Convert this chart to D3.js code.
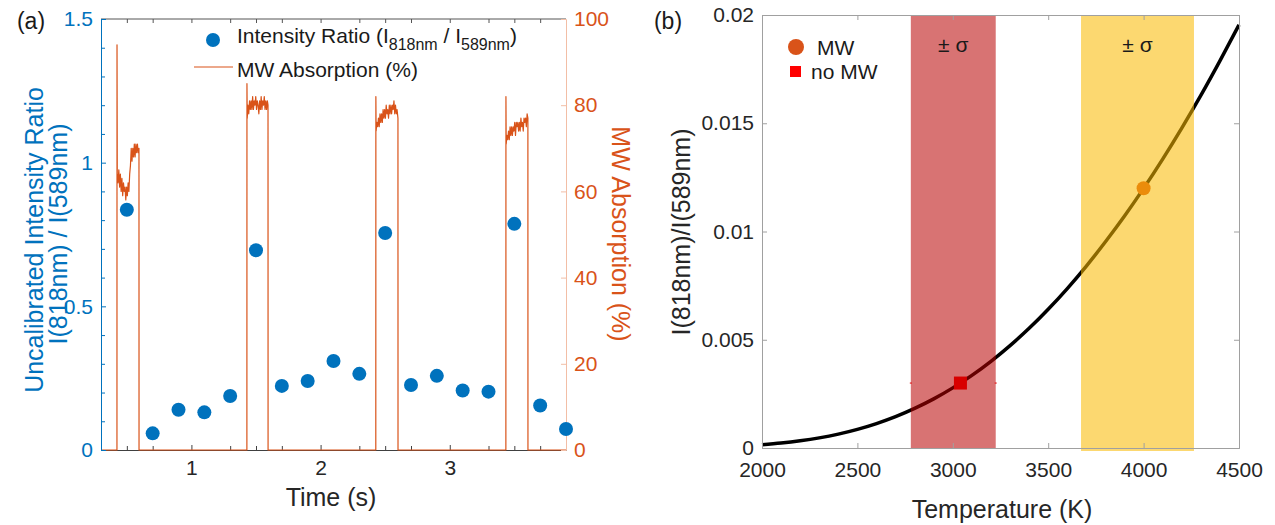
<!DOCTYPE html>
<html>
<head>
<meta charset="utf-8">
<script src="https://cdn.jsdelivr.net/npm/d3@7"></script>
<style>
  body { margin: 0; background: #fff; }
  text { font-family: "Liberation Sans", Arial, sans-serif; }
</style>
</head>
<body>
<div id="chart"></div>
<script>
// ---- panel (a) data ----
var ratioTime = [0.5, 0.7, 0.9, 1.1, 1.3, 1.5, 1.7, 1.9, 2.1, 2.3, 2.5, 2.7, 2.9, 3.1, 3.3, 3.5, 3.7, 3.9];
var ratioValue = [0.836, 0.058, 0.140, 0.131, 0.188, 0.695, 0.223, 0.240, 0.310, 0.265, 0.755, 0.226, 0.258, 0.207, 0.203, 0.787, 0.155, 0.073];

// MW absorption trace (%)
var mwTime = [0.30, 0.4235,
  0.424, 0.426, 0.432, 0.438, 0.444, 0.450, 0.456, 0.462, 0.468, 0.474, 0.480, 0.486, 0.492, 0.498, 0.504,
  0.510, 0.516, 0.522, 0.528, 0.534, 0.540, 0.546, 0.552, 0.558, 0.564, 0.570, 0.576, 0.582, 0.588, 0.594, 0.5945,
  1.4295,
  1.430, 1.432, 1.438, 1.444, 1.450, 1.456, 1.462, 1.468, 1.474, 1.480, 1.486, 1.492, 1.498, 1.504, 1.510,
  1.516, 1.522, 1.528, 1.534, 1.540, 1.546, 1.552, 1.558, 1.564, 1.570, 1.576, 1.582, 1.588, 1.593, 1.5935,
  2.4275,
  2.428, 2.430, 2.436, 2.442, 2.448, 2.454, 2.460, 2.466, 2.472, 2.478, 2.484, 2.490, 2.496, 2.502, 2.508,
  2.514, 2.520, 2.526, 2.532, 2.538, 2.544, 2.550, 2.556, 2.562, 2.568, 2.574, 2.580, 2.586, 2.592, 2.599, 2.5995,
  3.4345,
  3.435, 3.437, 3.443, 3.449, 3.455, 3.461, 3.467, 3.473, 3.479, 3.485, 3.491, 3.497, 3.503, 3.509, 3.515,
  3.521, 3.527, 3.533, 3.539, 3.545, 3.551, 3.557, 3.563, 3.569, 3.575, 3.581, 3.587, 3.593, 3.599, 3.605, 3.6055,
  3.90];
var mwValue = [0, 0,
  94, 64, 62, 65, 61, 64, 60, 63, 59, 62, 60, 61, 58, 61, 59,
  62, 60, 64, 66, 70, 67, 70, 68, 71, 68, 71, 69, 71, 69, 70, 0,
  0,
  85, 77, 80, 78, 81, 79, 81, 79, 82, 79, 81, 80, 82, 79, 81,
  80, 78, 81, 79, 82, 79, 81, 80, 82, 79, 81, 79, 81, 80, 0,
  0,
  82, 74, 76, 75, 77, 75, 78, 76, 78, 76, 79, 77, 79, 77, 80,
  78, 79, 77, 80, 78, 80, 78, 80, 79, 81, 78, 80, 78, 79, 77, 0,
  0,
  82, 71, 73, 72, 74, 72, 75, 73, 75, 73, 75, 74, 76, 73, 76,
  75, 76, 74, 76, 74, 77, 75, 76, 74, 77, 76, 77, 75, 78, 77, 0,
  0];

var timeTicks = [1, 2, 3];
var timeMinorTicks = [0.5, 0.7, 1.3, 1.5, 1.7, 2.3, 2.5, 2.7, 3.3, 3.5, 3.7];
var ratioTicks = [0, 0.5, 1, 1.5];
var ratioMinorTicks = [0.1, 0.2, 0.3, 0.4, 0.6, 0.7, 0.8, 0.9, 1.1, 1.2, 1.3, 1.4];
var mwTicks = [0, 20, 40, 60, 80, 100];

// ---- panel (b) data ----
var tempK = [2000, 2100, 2200, 2300, 2400, 2500, 2600, 2700, 2800, 2900, 3000, 3100, 3200,
  3300, 3400, 3500, 3600, 3700, 3800, 3900, 4000, 4100, 4200, 4300, 4400, 4500];
var ratioCurve = [0.000149, 0.000226, 0.000331, 0.000467, 0.000642, 0.000861, 0.001128, 0.001448,
  0.001828, 0.002269, 0.002777, 0.003352, 0.004004, 0.004729, 0.005527, 0.006409, 0.007365,
  0.008404, 0.009525, 0.010715, 0.011991, 0.013345, 0.014776, 0.016284, 0.017880, 0.019543];
var noMwBand = [2780, 3225];
var mwBand = [3672, 4264];
var noMwPoint = [3040, 0.003];
var mwPoint = [4000, 0.012];
var tempTicks = [2000, 2500, 3000, 3500, 4000, 4500];
var curveTicks = [0, 0.005, 0.01, 0.015, 0.02];

var blue = "#0072BD";
var orange = "#D95319";
var fontFam = "Liberation Sans, Arial, sans-serif";
var tickFont = 21;
var labelFont = 25;

var svg = d3.select("#chart").append("svg")
  .attr("width", 1275)
  .attr("height", 525);

// ================= panel (a) =================
var xA = d3.scaleLinear().domain([0.3, 3.9]).range([101, 566]);
var yA = d3.scaleLinear().domain([0, 1.5]).range([450, 19]);
var yMW = d3.scaleLinear().domain([0, 100]).range([450, 19]);

var gA = svg.append("g");

// top box line
gA.append("line")
  .attr("x1", 101).attr("x2", 566).attr("y1", 19).attr("y2", 19)
  .attr("stroke", "#555").attr("stroke-width", 1);

// top mirrored ticks
gA.append("g").attr("transform", "translate(0,19)")
  .call(d3.axisTop(xA).tickValues(timeTicks.concat(timeMinorTicks)).tickSize(-4).tickFormat(""))
  .call(g => g.select(".domain").remove())
  .call(g => g.selectAll("line").attr("stroke", "#555"));

// bottom axis
gA.append("g").attr("transform", "translate(0,450)")
  .call(d3.axisBottom(xA).tickValues(timeMinorTicks).tickSize(-4).tickFormat(""))
  .call(g => g.select(".domain").remove())
  .call(g => g.selectAll("line").attr("stroke", "#404040"));
gA.append("g").attr("transform", "translate(0,450)")
  .call(d3.axisBottom(xA).tickValues(timeTicks).tickSize(-5).tickPadding(10).tickFormat(d3.format("d")))
  .call(g => g.select(".domain").attr("stroke", "#404040"))
  .call(g => g.selectAll("line").attr("stroke", "#404040"))
  .call(g => g.selectAll("text").attr("font-size", tickFont).attr("fill", "#262626")
    .attr("font-family", fontFam));

// MW absorption trace
var mwLine = d3.line()
  .x((d, i) => xA(mwTime[i]))
  .y(d => yMW(d));
gA.append("path")
  .datum(mwValue)
  .attr("d", mwLine)
  .attr("fill", "none")
  .attr("stroke", orange)
  .attr("stroke-width", 1.2)
  .attr("stroke-linejoin", "round");

// left axis (blue)
gA.append("g").attr("transform", "translate(101,0)")
  .call(d3.axisLeft(yA).tickValues(ratioMinorTicks).tickSize(-4).tickFormat(""))
  .call(g => g.select(".domain").remove())
  .call(g => g.selectAll("line").attr("stroke", blue));
gA.append("g").attr("transform", "translate(101,0)")
  .call(d3.axisLeft(yA).tickValues(ratioTicks).tickSize(-5).tickPadding(8).tickFormat(d => d))
  .call(g => g.select(".domain").attr("stroke", blue))
  .call(g => g.selectAll("line").attr("stroke", blue))
  .call(g => g.selectAll("text").attr("font-size", tickFont).attr("fill", blue)
    .attr("font-family", fontFam));

// right axis (orange)
gA.append("g").attr("transform", "translate(566,0)")
  .call(d3.axisRight(yMW).tickValues(mwTicks).tickSize(-5).tickPadding(8))
  .call(g => g.select(".domain").attr("stroke", "#f2bea6"))
  .call(g => g.selectAll("line").attr("stroke", "#f2bea6"))
  .call(g => g.selectAll("text").attr("font-size", tickFont).attr("fill", orange)
    .attr("font-family", fontFam));

// intensity ratio points
gA.append("g").selectAll("circle")
  .data(ratioValue)
  .enter()
  .append("circle")
  .attr("cx", (d, i) => xA(ratioTime[i]))
  .attr("cy", d => yA(d))
  .attr("r", 7)
  .attr("fill", blue);

// legend (a)
gA.append("circle").attr("cx", 213).attr("cy", 40).attr("r", 7).attr("fill", blue);
var lt = gA.append("text").attr("x", 237).attr("y", 43).attr("font-size", tickFont).attr("fill", "#1a1a1a");
lt.append("tspan").text("Intensity Ratio (I");
lt.append("tspan").attr("dy", 7).attr("font-size", 16).text("818nm");
lt.append("tspan").attr("dy", -7).text(" / I");
lt.append("tspan").attr("dy", 7).attr("font-size", 16).text("589nm");
lt.append("tspan").attr("dy", -7).text(")");
gA.append("line").attr("x1", 194).attr("x2", 233).attr("y1", 67).attr("y2", 67)
  .attr("stroke", orange).attr("stroke-width", 1.2);
gA.append("text").attr("x", 237).attr("y", 77).attr("font-size", tickFont).attr("fill", "#1a1a1a")
  .text("MW Absorption (%)");

// labels (a)
gA.append("text").attr("x", 31).attr("y", 29).attr("font-size", 23).attr("text-anchor", "middle")
  .attr("fill", "#1a1a1a").text("(a)");
gA.append("text").attr("x", 331).attr("y", 506).attr("font-size", labelFont).attr("text-anchor", "middle")
  .attr("fill", "#262626").text("Time (s)");
gA.append("text").attr("transform", "translate(43,240) rotate(-90)").attr("font-size", labelFont)
  .attr("text-anchor", "middle").attr("fill", blue).text("Uncalibrated Intensity Ratio");
gA.append("text").attr("transform", "translate(67,234) rotate(-90)").attr("font-size", labelFont)
  .attr("text-anchor", "middle").attr("fill", blue).text("I(818nm) / I(589nm)");
gA.append("text").attr("transform", "translate(612,234) rotate(90)").attr("font-size", labelFont)
  .attr("text-anchor", "middle").attr("fill", orange).text("MW Absorption (%)");

// ================= panel (b) =================
var xB = d3.scaleLinear().domain([2000, 4500]).range([762, 1239]);
var yB = d3.scaleLinear().domain([0, 0.02]).range([448, 15]);

var gB = svg.append("g");

// black curve
var curve = d3.line()
  .x((d, i) => xB(tempK[i]))
  .y(d => yB(d))
  .curve(d3.curveMonotoneX);
gB.append("path")
  .datum(ratioCurve)
  .attr("d", curve)
  .attr("fill", "none")
  .attr("stroke", "#000")
  .attr("stroke-width", 3.5);

// markers (under the bands)
gB.append("rect")
  .attr("x", xB(noMwPoint[0]) - 6.5).attr("y", yB(noMwPoint[1]) - 6.5)
  .attr("width", 13).attr("height", 13)
  .attr("fill", "#ff0000");
gB.append("circle")
  .attr("cx", xB(mwPoint[0])).attr("cy", yB(mwPoint[1])).attr("r", 7)
  .attr("fill", orange);

// sigma bands
gB.append("rect")
  .attr("x", xB(noMwBand[0])).attr("y", yB(0.02))
  .attr("width", xB(noMwBand[1]) - xB(noMwBand[0])).attr("height", yB(0) - yB(0.02))
  .attr("fill", "#b80000").attr("fill-opacity", 0.55);
gB.append("rect")
  .attr("x", xB(mwBand[0])).attr("y", yB(0.02))
  .attr("width", xB(mwBand[1]) - xB(mwBand[0])).attr("height", yB(0) - yB(0.02) + 3)
  .attr("fill", "#f9b900").attr("fill-opacity", 0.56);

// small error-bar caps at the band edges
[noMwBand[0], noMwBand[1]].forEach(function(t) {
  gB.append("line")
    .attr("x1", xB(t) - 1).attr("x2", xB(t) + 1)
    .attr("y1", yB(noMwPoint[1])).attr("y2", yB(noMwPoint[1]))
    .attr("stroke", "#e00000").attr("stroke-width", 1);
});

gB.append("text").attr("x", (xB(noMwBand[0]) + xB(noMwBand[1])) / 2).attr("y", 52)
  .attr("font-size", tickFont).attr("text-anchor", "middle").attr("fill", "#1a1a1a").text("± σ");
gB.append("text").attr("x", (xB(mwBand[0]) + xB(mwBand[1])) / 2).attr("y", 52)
  .attr("font-size", tickFont).attr("text-anchor", "middle").attr("fill", "#1a1a1a").text("± σ");

// axes (b)
var axisGray = "#a0a0a0";
gB.append("g").attr("transform", "translate(0,448)")
  .call(d3.axisBottom(xB).tickValues(tempTicks).tickSize(-5).tickPadding(14).tickFormat(d3.format("d")))
  .call(g => g.select(".domain").attr("stroke", axisGray))
  .call(g => g.selectAll("line").attr("stroke", axisGray))
  .call(g => g.selectAll("text").attr("font-size", tickFont).attr("fill", "#262626")
    .attr("font-family", fontFam));
gB.append("g").attr("transform", "translate(0,15)")
  .call(d3.axisTop(xB).tickValues(tempTicks).tickSize(-5).tickFormat(""))
  .call(g => g.select(".domain").attr("stroke", axisGray))
  .call(g => g.selectAll("line").attr("stroke", axisGray));
gB.append("g").attr("transform", "translate(762,0)")
  .call(d3.axisLeft(yB).tickValues(curveTicks).tickSize(-5).tickPadding(8).tickFormat(d => d))
  .call(g => g.select(".domain").attr("stroke", axisGray))
  .call(g => g.selectAll("line").attr("stroke", axisGray))
  .call(g => g.selectAll("text").attr("font-size", tickFont).attr("fill", "#262626")
    .attr("font-family", fontFam));
gB.append("g").attr("transform", "translate(1239,0)")
  .call(d3.axisRight(yB).tickValues(curveTicks).tickSize(-5).tickFormat(""))
  .call(g => g.select(".domain").attr("stroke", axisGray))
  .call(g => g.selectAll("line").attr("stroke", axisGray));

// legend (b)
gB.append("circle").attr("cx", 796).attr("cy", 47).attr("r", 8).attr("fill", orange);
gB.append("text").attr("x", 817).attr("y", 55).attr("font-size", tickFont).attr("fill", "#1a1a1a").text("MW");
gB.append("rect").attr("x", 790).attr("y", 66).attr("width", 11).attr("height", 11).attr("fill", "#ff0000");
gB.append("text").attr("x", 811).attr("y", 79).attr("font-size", tickFont).attr("fill", "#1a1a1a").text("no MW");

// labels (b)
gB.append("text").attr("x", 668).attr("y", 29).attr("font-size", 23).attr("text-anchor", "middle")
  .attr("fill", "#1a1a1a").text("(b)");
gB.append("text").attr("x", 1002).attr("y", 518).attr("font-size", labelFont).attr("text-anchor", "middle")
  .attr("fill", "#262626").text("Temperature (K)");
gB.append("text").attr("transform", "translate(690,232) rotate(-90)").attr("font-size", labelFont)
  .attr("text-anchor", "middle").attr("fill", "#262626").text("I(818nm)/I(589nm)");
</script>
</body>
</html>
